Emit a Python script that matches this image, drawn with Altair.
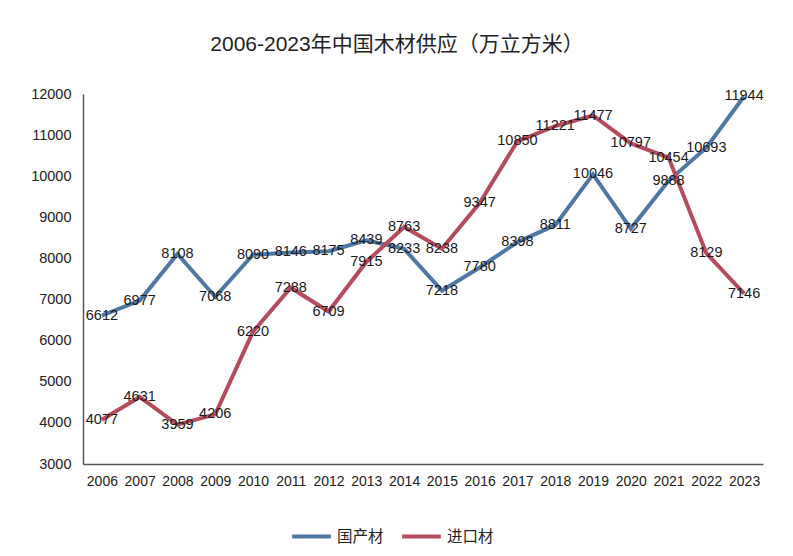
import altair as alt
import pandas as pd

years = [str(y) for y in range(2006, 2024)]
domestic = [6612, 6977, 8108, 7068, 8090, 8146, 8175, 8439, 8233, 7218,
            7780, 8398, 8811, 10046, 8727, 9888, 10693, 11944]
imported = [4077, 4631, 3959, 4206, 6220, 7288, 6709, 7915, 8763, 8238,
            9347, 10850, 11221, 11477, 10797, 10454, 8129, 7146]
series_names = ["国产材", "进口材"]
series_colors = ["#4f77a4", "#b54c5e"]

rows = []
for name, vals in zip(series_names, [domestic, imported]):
    for y, v in zip(years, vals):
        rows.append({"year": y, "value": v, "series": name})
df = pd.DataFrame(rows)

FONT = "Liberation Sans, Noto Sans CJK SC"

x = alt.X("year:O", scale=alt.Scale(type="point", padding=0.5), sort=years,
          axis=alt.Axis(title=None, labelAngle=0, ticks=False, labelFontSize=14,
                        labelColor="#222", domainColor="#555", labelPadding=10,
                        labelFont=FONT, domainWidth=1.5))
y = alt.Y("value:Q", scale=alt.Scale(domain=[3000, 12000], nice=False),
          axis=alt.Axis(title=None, values=list(range(3000, 12001, 1000)), grid=False,
                        format="d", ticks=False, labelFontSize=14.5, labelColor="#222",
                        domainColor="#555", labelPadding=12, labelFont=FONT,
                        domainWidth=1.5))
color = alt.Color("series:N", sort=series_names,
                  scale=alt.Scale(domain=series_names, range=series_colors),
                  legend=alt.Legend(title=None, orient="none", direction="horizontal",
                                    legendX=207, legendY=421, symbolType="stroke",
                                    symbolStrokeWidth=4, symbolSize=1500,
                                    labelFontSize=15.5, labelFont=FONT, labelColor="#222",
                                    columnPadding=10, labelOffset=4))

base = alt.Chart(df)
lines = base.mark_line(strokeWidth=4).encode(x=x, y=y, color=color, detail="series:N")
labels = base.mark_text(fontSize=14.5, font=FONT, color="#1a1a1a", baseline="middle").encode(
    x=x, y=y, text="value:Q")

chart = (lines + labels).properties(
    width=680, height=370,
    title=alt.TitleParams("2006-2023年中国木材供应（万立方米）", fontSize=21, font=FONT,
                          fontWeight="normal", color="#222", anchor="middle",
                          dx=-26, offset=31),
    autosize=alt.AutoSizeParams(type="none"),
    padding={"left": 83, "top": 94, "right": 30, "bottom": 92},
).configure_view(stroke=None)

chart.save("out.html", embed_options={"renderer": "svg", "actions": False})
